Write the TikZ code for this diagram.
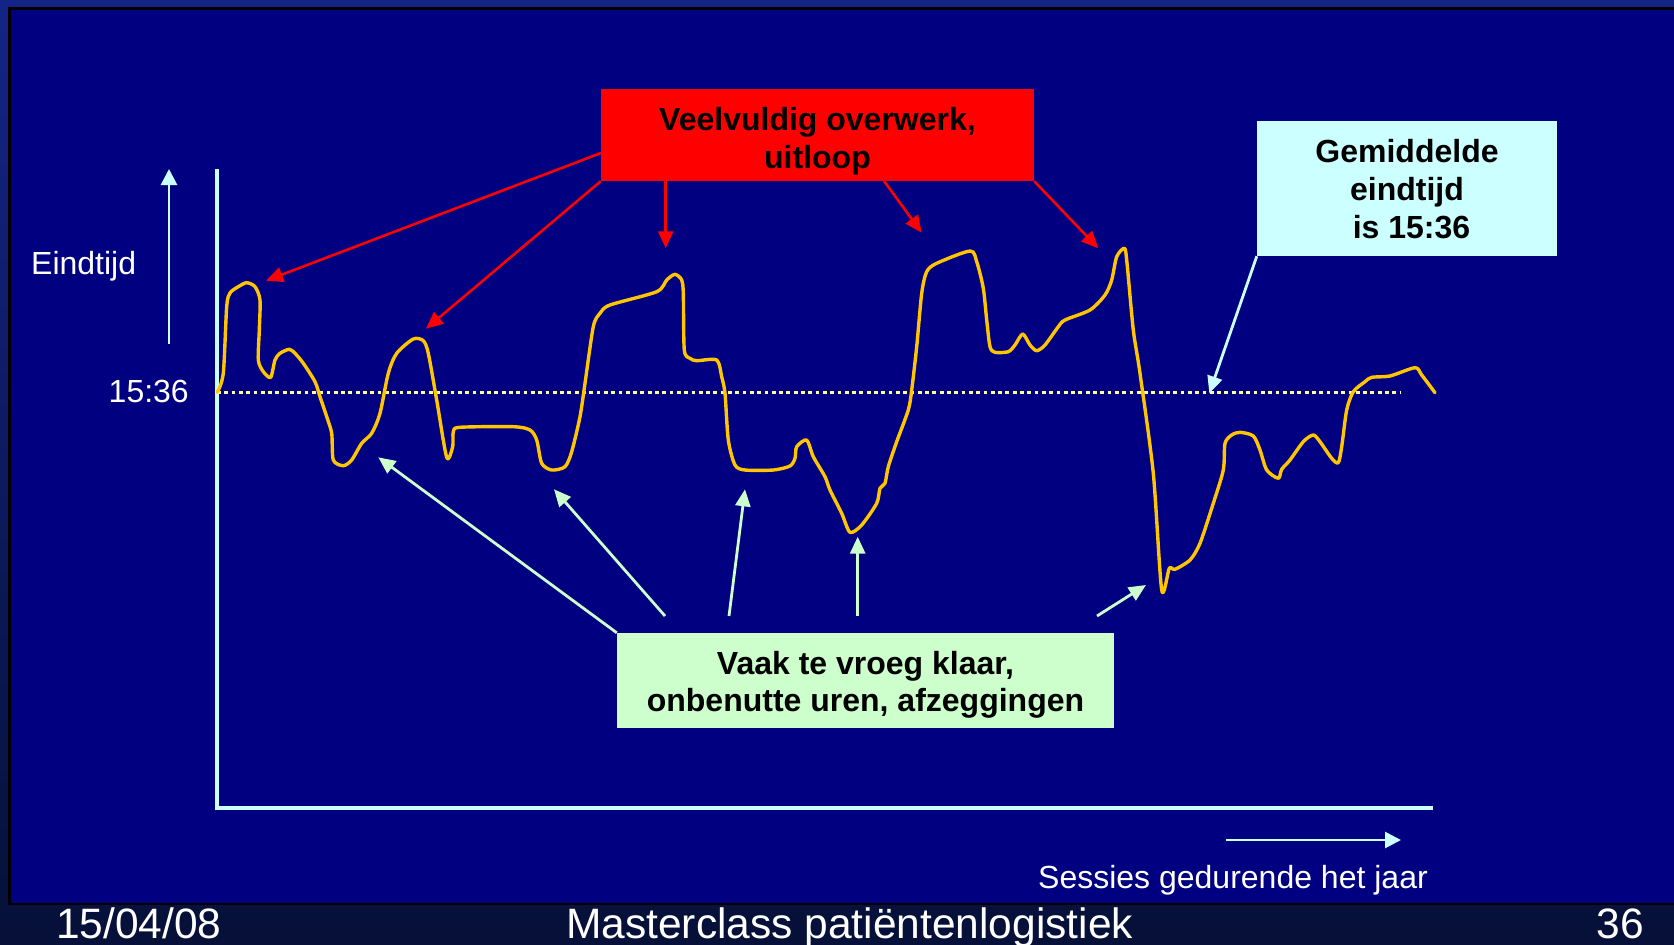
\documentclass[tikz,border=0pt]{standalone}
\usepackage{fontspec}
\setmainfont{Liberation Sans}
\usetikzlibrary{arrows.meta}
\definecolor{frametop}{RGB}{20,36,134}
\definecolor{framebot}{RGB}{6,16,56}
\definecolor{panel}{RGB}{0,0,128}
\definecolor{axiscol}{RGB}{204,255,255}
\definecolor{curvecol}{RGB}{255,198,0}
\definecolor{avgcol}{RGB}{255,255,153}
\definecolor{redbox}{RGB}{255,0,0}
\definecolor{cyanbox}{RGB}{204,255,255}
\definecolor{greenbox}{RGB}{204,255,204}
\tikzset{
  lbl/.style={text=white, inner sep=0pt, font=\fontsize{32}{38}\selectfont},
  foot/.style={text=white, inner sep=0pt, font=\fontsize{42.5}{48}\selectfont},
  callout/.style={inner sep=0pt, align=center, text=black, font=\fontsize{32}{38}\selectfont\bfseries},
  redarrow/.style={draw=redbox, line width=2.6pt, -{Triangle[length=17pt,width=15pt]}},
  greenarrow/.style={draw=greenbox, line width=2.8pt, -{Triangle[length=17pt,width=15pt]}},
  cyanarrow/.style={draw=cyanbox, line width=2.8pt, -{Triangle[length=17pt,width=15pt]}},
  axisline/.style={draw=axiscol, line width=4.5pt},
  axisarrow/.style={draw=axiscol, line width=2.8pt, -{Triangle[length=16pt,width=16pt]}},
}
\begin{document}
\begin{tikzpicture}[x=1pt,y=-1pt]
\useasboundingbox (0,0) rectangle (1674,945);
% frame
\shade[top color=frametop, bottom color=framebot] (0,0) rectangle (1674,945);
\fill[panel, draw=black, line width=2.5pt] (9.5,8.5) rectangle (1690,904);

% axes
\coordinate (ytop) at (217,169);
\coordinate (origin) at (217,808);
\coordinate (xend) at (1433,808);
\draw[axisline] (ytop) -- (origin) -- (xend);
\coordinate (yarrS) at (169,344);
\coordinate (yarrE) at (169,169);
\draw[axisarrow] (yarrS) -- (yarrE);
\coordinate (xarrS) at (1226,840);
\coordinate (xarrE) at (1401,840);
\draw[axisarrow] (xarrS) -- (xarrE);

% labels
\node[lbl, anchor=base west] (eind) at (31,274) {Eindtijd};
\node[lbl, anchor=base east] (avglbl) at (189,402) {15:36};
\node[lbl, anchor=base west] (sess) at (1038,888) {Sessies gedurende het jaar};

% average line
\coordinate (avgS) at (217,392.3);
\coordinate (avgE) at (1401,392.3);
\draw[avgcol, line width=3.6pt, dash pattern=on 3.8pt off 3.5pt] (avgS) -- (avgE);

% curve
\draw[curvecol, line width=3.4pt, line join=round, line cap=round] plot[smooth, tension=0.45] coordinates {
(217.3,392.3) (223.3,373.3) (226.7,306.7) (230,293) (238.3,286.7) (246.7,282.7) (255,286.7) (260,300) (259.3,330) (258.3,360) (263.3,371.7) (270.7,377.3) (275,360) (280,353.3) (289.3,349.3) (295,353.3) (303.3,363.3) (315,381.7) (320,396.7) (326.7,416.7) (331.7,433.3) (333.3,460) (343.3,465.7) (351.7,460) (361.7,443.3) (371.7,433.3) (380,413.3) (388.3,373.3) (396.7,353.3) (413.3,339) (423.3,340.7) (428.3,353.3) (436.7,400) (446.7,457.3) (452.7,446.7) (453.3,431.7) (460,427.3) (513.3,426.7) (530,430) (536.7,440) (541.7,463.3) (551.7,470) (565,466.7) (571.7,451.7) (580,416.7) (585,383.3) (593.3,326.7) (600,313.3) (610,305) (656.7,291.7) (666.7,280) (675,274.3) (681.7,280) (683.3,293.3) (684.3,350) (690,358.3) (696.7,360.7) (716.7,360) (721.7,376.7) (725,393.3) (728.3,440) (735,465) (745,470) (773.3,470) (790,466) (795,458.3) (796.7,446.7) (806.7,440) (813.3,456.7) (825,476.7) (830,490) (841.7,513.3) (850,532.3) (861.7,525) (876.7,503.3) (880,488.3) (885,483.3) (888.3,466.7) (896.7,441.7) (908.3,410) (911.7,390) (916.7,346.7) (921.7,293.3) (926.7,271.7) (936.7,263.3) (970,251) (976.7,261.7) (983.3,288.3) (986.7,320) (990,346.7) (995,352.3) (1008.3,351.7) (1015,345) (1022.7,334) (1030,345) (1036.7,350.7) (1045,345) (1058.3,326.7) (1065,320) (1090,310) (1105,295) (1111.7,280) (1116.7,256.7) (1124.5,248.3) (1127,263) (1133.3,330) (1140,373.3) (1153.3,473.3) (1161.7,590) (1169.3,568.3) (1175,569.3) (1190,560) (1200,543.3) (1213.3,503.3) (1223.3,470) (1225,443.3) (1231.7,435) (1240,432.3) (1253.3,436) (1260,450) (1266.7,470) (1278.3,478.3) (1281.7,469.3) (1290,460) (1303.3,441.7) (1313.3,435) (1320,441.7) (1331.7,458.3) (1338.3,462.7) (1341.7,446.7) (1346.7,410) (1353.3,391.7) (1365,381.7) (1371.7,377.3) (1390,376) (1415,367.7) (1421.7,375) (1435,392.7)
};

% callout boxes
\node[fill=redbox, minimum width=433pt, minimum height=92pt, inner sep=0pt] (red) at (817.5,135) {};
\node[callout, anchor=base] (redt1) at (817.5,130) {Veelvuldig overwerk,};
\node[callout, anchor=base] (redt2) at (817.5,168) {uitloop};

\node[fill=cyanbox, minimum width=300pt, minimum height=135pt, inner sep=0pt] (cyan) at (1407,188.5) {};
\node[callout, anchor=base] (cyant1) at (1407,162.7) {Gemiddelde};
\node[callout, anchor=base] (cyant2) at (1407,200.7) {eindtijd};
\node[callout, anchor=base] (cyant3) at (1411.5,238.3) {is 15:36};

\node[fill=greenbox, minimum width=497pt, minimum height=95pt, inner sep=0pt] (green) at (865.5,680.5) {};
\node[callout, anchor=base] (greent1) at (865.5,674.5) {Vaak te vroeg klaar,};
\node[callout, anchor=base] (greent2) at (865.5,711.5) {onbenutte uren, afzeggingen};

% red arrows
\coordinate (rS1) at (601,153);
\coordinate (rT1) at (266,280.7);
\coordinate (rT2) at (426,328.7);
\coordinate (rS3) at (665.7,181);
\coordinate (rT3) at (665.7,248.3);
\coordinate (rS4) at (884,181);
\coordinate (rT4) at (921.7,232.7);
\coordinate (rT5) at (1098.3,248.3);
\draw[redarrow] (rS1) -- (rT1);
\draw[redarrow] (red.south west) -- (rT2);
\draw[redarrow] (rS3) -- (rT3);
\draw[redarrow] (rS4) -- (rT4);
\draw[redarrow] (red.south east) -- (rT5);

% cyan arrow
\coordinate (cT) at (1209.3,393.3);
\draw[cyanarrow] (cyan.south west) -- (cT);

% green arrows
\coordinate (gT1) at (378.3,457.3);
\coordinate (gS2) at (665,616);
\coordinate (gT2) at (554,489.3);
\coordinate (gS3) at (729,616);
\coordinate (gT3) at (745,489.3);
\coordinate (gS4) at (857.7,616);
\coordinate (gT4) at (857.7,536.7);
\coordinate (gS5) at (1097,616);
\coordinate (gT5) at (1146,585);
\draw[greenarrow] (green.north west) -- (gT1);
\draw[greenarrow] (gS2) -- (gT2);
\draw[greenarrow] (gS3) -- (gT3);
\draw[greenarrow] (gS4) -- (gT4);
\draw[greenarrow] (gS5) -- (gT5);

% footer
\node[foot, anchor=base west] (date) at (56,938.3) {15/04/08};
\node[foot, anchor=base west] (title) at (566,938.3) {Masterclass patiëntenlogistiek};
\node[foot, anchor=base east] (page) at (1644,938.3) {36};
\end{tikzpicture}
\end{document}
